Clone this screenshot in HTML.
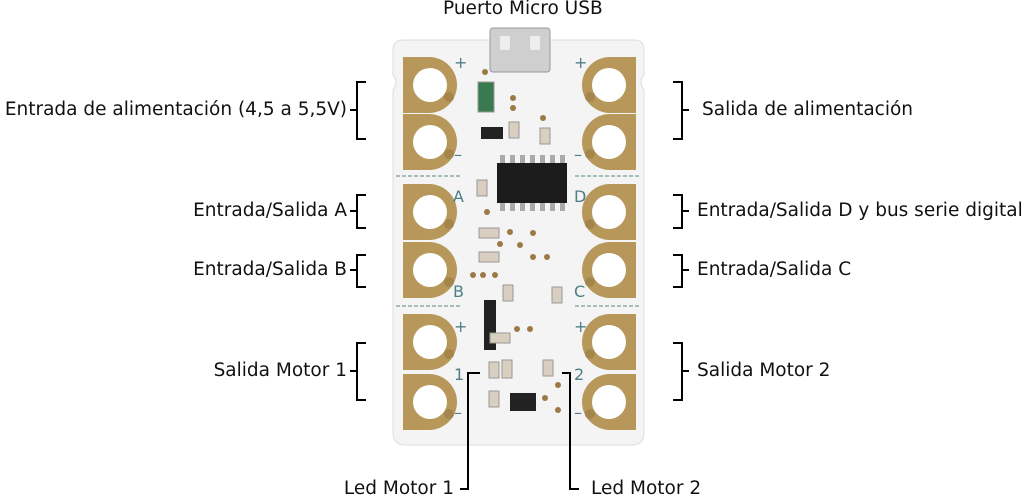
<!DOCTYPE html>
<html><head><meta charset="utf-8"><style>
body{margin:0;width:1024px;height:496px;background:#fff;overflow:hidden;position:relative;font-family:"DejaVu Sans","Liberation Sans",sans-serif;}
.t{position:absolute;font-size:18.5px;color:#111;white-space:nowrap;line-height:22px}
svg{position:absolute;left:0;top:0}
</style></head><body>
<svg width="1024" height="496" viewBox="0 0 1024 496">
<defs>
<g id="padL"><path d="M0,-28 H26 A28,28 0 0 1 26,28 H0 Z" fill="#b7985a"/><circle cx="27" cy="0" r="17" fill="#fff"/><circle cx="46" cy="12" r="5" fill="#a4864c"/></g>
</defs>
<path d="M403,40 H634 Q644,40 644,50 V75 Q638,82 644,90 V432 Q644,445 632,445 H405 Q393,445 393,432 V90 Q399,82 393,75 V50 Q393,40 403,40Z" fill="#f4f4f4" stroke="#ddd"/>
<rect x="490" y="28" width="60" height="44" rx="3" fill="#cfcfcf" stroke="#999"/>
<rect x="500" y="36" width="10" height="14" rx="2" fill="#eee"/><rect x="530" y="36" width="10" height="14" rx="2" fill="#eee"/>
<g transform="translate(403,85)"><use href="#padL"/></g>
<g transform="translate(403,142)"><use href="#padL"/></g>
<g transform="translate(403,212)"><use href="#padL"/></g>
<g transform="translate(403,270)"><use href="#padL"/></g>
<g transform="translate(403,342)"><use href="#padL"/></g>
<g transform="translate(403,402)"><use href="#padL"/></g>
<g transform="translate(636,85) scale(-1,1)"><use href="#padL"/></g>
<g transform="translate(636,142) scale(-1,1)"><use href="#padL"/></g>
<g transform="translate(636,212) scale(-1,1)"><use href="#padL"/></g>
<g transform="translate(636,270) scale(-1,1)"><use href="#padL"/></g>
<g transform="translate(636,342) scale(-1,1)"><use href="#padL"/></g>
<g transform="translate(636,402) scale(-1,1)"><use href="#padL"/></g>
<g stroke="#7a9a9a" stroke-dasharray="4,2" stroke-width="1.2">
<line x1="396" y1="176" x2="462" y2="176"/><line x1="575" y1="176" x2="641" y2="176"/>
<line x1="396" y1="306" x2="462" y2="306"/><line x1="575" y1="306" x2="641" y2="306"/></g>
<g fill="#4d7f86" font-family="DejaVu Sans" font-size="16">
<text x="454" y="68">+</text><text x="574" y="68">+</text>
<text x="454" y="160">–</text><text x="574" y="160">–</text>
<text x="453" y="202">A</text><text x="574" y="202">D</text>
<text x="453" y="297">B</text><text x="574" y="297">C</text>
<text x="454" y="332">+</text><text x="574" y="332">+</text>
<text x="454" y="380">1</text><text x="574" y="380">2</text>
<text x="454" y="418">–</text><text x="574" y="418">–</text>
</g>
<rect x="497" y="163" width="70" height="40" fill="#1c1c1c"/>
<g fill="#aaa"><rect x="500" y="155" width="5" height="8"/><rect x="510" y="155" width="5" height="8"/><rect x="520" y="155" width="5" height="8"/><rect x="530" y="155" width="5" height="8"/><rect x="540" y="155" width="5" height="8"/><rect x="550" y="155" width="5" height="8"/><rect x="560" y="155" width="5" height="8"/>
<rect x="500" y="203" width="5" height="8"/><rect x="510" y="203" width="5" height="8"/><rect x="520" y="203" width="5" height="8"/><rect x="530" y="203" width="5" height="8"/><rect x="540" y="203" width="5" height="8"/><rect x="550" y="203" width="5" height="8"/><rect x="560" y="203" width="5" height="8"/></g>
<rect x="478" y="82" width="16" height="30" fill="#3a7a50" stroke="#999"/>
<rect x="481" y="127" width="22" height="12" fill="#222"/>
<rect x="484" y="300" width="12" height="50" fill="#222"/>
<rect x="510" y="393" width="26" height="18" fill="#222"/>
<g fill="#d8cfc0" stroke="#999"><rect x="509" y="122" width="10" height="16"/><rect x="540" y="128" width="10" height="16"/><rect x="477" y="180" width="10" height="16"/><rect x="479" y="228" width="20" height="10"/><rect x="479" y="252" width="20" height="10"/><rect x="503" y="285" width="10" height="16"/><rect x="552" y="287" width="10" height="16"/><rect x="490" y="333" width="20" height="10"/><rect x="489" y="362" width="10" height="16"/><rect x="502" y="360" width="10" height="18"/><rect x="543" y="360" width="10" height="16"/><rect x="489" y="391" width="10" height="16"/></g>
<g fill="#9b7a45"><circle cx="485" cy="72" r="3"/><circle cx="513" cy="98" r="3"/><circle cx="513" cy="108" r="3"/><circle cx="543" cy="118" r="3"/><circle cx="487" cy="212" r="3"/><circle cx="510" cy="232" r="3"/><circle cx="533" cy="233" r="3"/><circle cx="500" cy="244" r="3"/><circle cx="520" cy="245" r="3"/><circle cx="533" cy="257" r="3"/><circle cx="547" cy="257" r="3"/><circle cx="473" cy="275" r="3"/><circle cx="483" cy="275" r="3"/><circle cx="495" cy="275" r="3"/><circle cx="517" cy="329" r="3"/><circle cx="530" cy="329" r="3"/><circle cx="558" cy="385" r="3"/><circle cx="545" cy="398" r="3"/><circle cx="558" cy="410" r="3"/></g>
<g stroke="#000" stroke-width="2" fill="none">
<path d="M366,82 H357 V139 H366 M357,110 H350"/>
<path d="M366,195 H357 V228 H366 M357,211 H350"/>
<path d="M366,255 H357 V287 H366 M357,270 H350"/>
<path d="M366,343 H357 V400 H366 M357,371 H350"/>
<path d="M673,82 H682 V139 H673 M682,110 H689"/>
<path d="M673,195 H682 V228 H673 M682,211 H689"/>
<path d="M673,255 H682 V287 H673 M682,270 H689"/>
<path d="M673,343 H682 V400 H673 M682,371 H689"/>
<path d="M480,373 H468 V489 H460"/>
<path d="M562,373 H570 V489 H579"/>
</g>
</svg>
<div class="t" style="left:443px;top:-2px">Puerto Micro USB</div>
<div class="t" style="right:677px;top:99px">Entrada de alimentación (4,5 a 5,5V)</div>
<div class="t" style="right:677px;top:200px">Entrada/Salida A</div>
<div class="t" style="right:677px;top:259px">Entrada/Salida B</div>
<div class="t" style="right:677px;top:360px">Salida Motor 1</div>
<div class="t" style="left:702px;top:99px">Salida de alimentación</div>
<div class="t" style="left:697px;top:200px">Entrada/Salida D y bus serie digital</div>
<div class="t" style="left:697px;top:259px">Entrada/Salida C</div>
<div class="t" style="left:697px;top:360px">Salida Motor 2</div>
<div class="t" style="right:570px;top:478px">Led Motor 1</div>
<div class="t" style="left:591px;top:478px">Led Motor 2</div>
</body></html>
